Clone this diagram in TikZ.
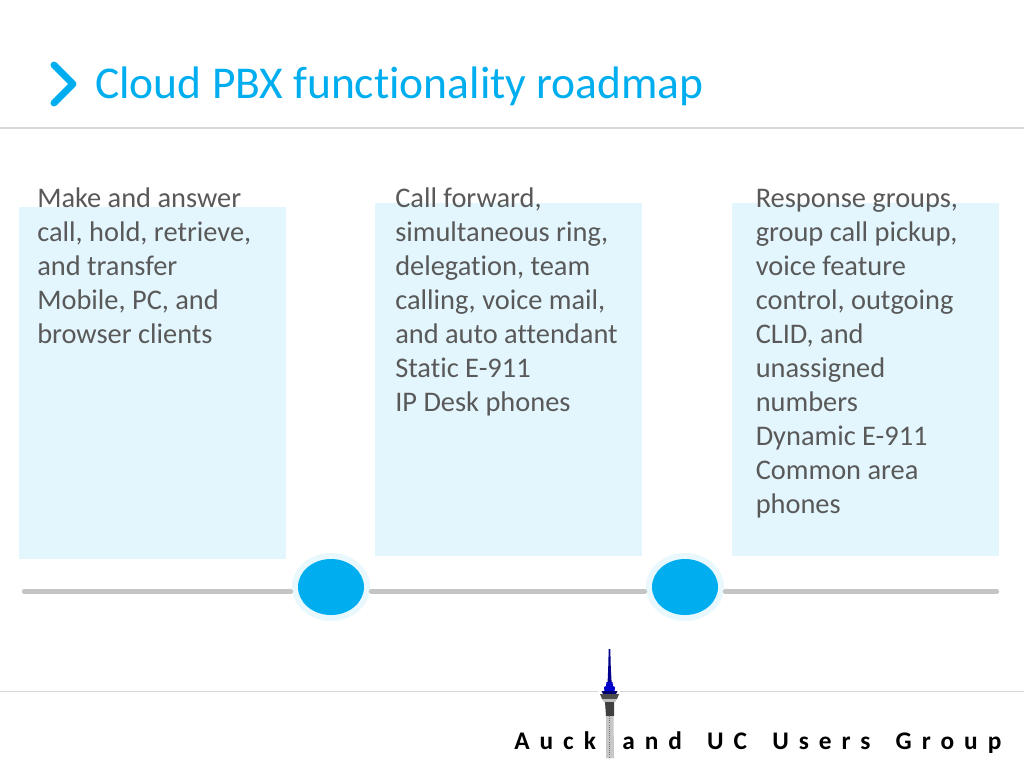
\documentclass[tikz,border=0pt]{standalone}
\usepackage{fontspec}
\setmainfont[Ligatures=NoCommon]{Carlito}
\newfontfamily\spacedfont[LetterSpace=39.5,WordSpace=1.6,Ligatures=NoCommon]{Carlito Bold}
\definecolor{accent}{RGB}{0,174,239}
\definecolor{panel}{RGB}{227,246,253}
\definecolor{halo}{RGB}{232,248,253}
\definecolor{bodytext}{RGB}{89,89,89}
\definecolor{rulegrey}{RGB}{215,215,215}
\definecolor{track}{RGB}{196,196,196}
\tikzset{
  panelbox/.style={fill=panel,draw=none},
  bodylabel/.style={anchor=north west,align=left,inner sep=0pt,text=bodytext,font=\fontsize{21.3pt}{25.5pt}\selectfont},
  tracksegment/.style={draw=track,line width=3.2pt,line cap=round},
  thinrule/.style={draw=rulegrey,line width=0.9pt},
}
\begin{document}
\begin{tikzpicture}[x=0.75pt,y=-0.75pt]
\useasboundingbox (0,0) rectangle (1024,768);
\fill[white] (0,0) rectangle (1024,768);
% rules
\coordinate (ruleAl) at (0,128); \coordinate (ruleAr) at (1024,128);
\draw[thinrule] (ruleAl) -- (ruleAr);
\coordinate (ruleBl) at (0,691.5); \coordinate (ruleBr) at (1024,691.5);
\draw[thinrule] (ruleBl) -- (ruleBr);
% title
\draw[accent,line width=5.2pt,line cap=round,line join=round] (54,65) -- (73,84) -- (54,103);
\node[anchor=base west,inner sep=0pt,text=accent,font=\fontsize{34.15pt}{40pt}\selectfont] (title) at (95,98) {Cloud PBX functionality roadmap};
% panels
\fill[panelbox] (19,207) rectangle (286,559);
\fill[panelbox] (375,202.5) rectangle (642,556);
\fill[panelbox] (732,202.5) rectangle (998.5,556);
% texts
\node[bodylabel] (tA) at (37,187.5) {Make and answer\\call, hold, retrieve,\\and transfer\\Mobile, PC, and\\browser clients};
\node[bodylabel] (tB) at (395,187.5) {Call forward,\\simultaneous ring,\\delegation, team\\calling, voice mail,\\and auto attendant\\Static E-911\\IP Desk phones};
\node[bodylabel] (tC) at (755.5,189.5) {Response groups,\\group call pickup,\\voice feature\\control, outgoing\\CLID, and\\unassigned\\numbers\\Dynamic E-911\\Common area\\phones};
% timeline
\coordinate (trackStart) at (24,591.5);
\coordinate (trackEnd) at (997,591.5);
\fill[halo] (331,587) ellipse (39 and 34);
\fill[halo] (685,587) ellipse (39 and 34);
\draw[tracksegment] (trackStart) -- (291,591.5);
\draw[tracksegment] (371,591.5) -- (645,591.5);
\draw[tracksegment] (725,591.5) -- (trackEnd);
\fill[accent] (331,587) ellipse (33 and 28);
\fill[accent] (685,587) ellipse (33 and 28);
% tower
\fill[white] (598,686) rectangle (620,697);
\fill[blue!55!black] (608.7,649) -- (610.3,649) -- (610.8,668) -- (611.6,682) -- (607.6,682) -- (608.2,668) -- cycle;
\fill[blue!80!black] (606.5,682) -- (612.5,682) -- (613,686) -- (615,687) -- (614.5,692) -- (604.5,692) -- (604,687) -- (606,686) -- cycle;
\fill[blue!45!black] (601.5,691) -- (617.5,691) -- (616,694) -- (603,694) -- cycle;
\fill[black!70] (600,694) -- (619,694) -- (617,699) -- (602,699) -- cycle;
\fill[black!25] (602,699) -- (617,699) -- (615,702) -- (604,702) -- cycle;
\fill[black!75] (605,702) -- (614,702) -- (614,716) -- (606,716) -- cycle;
\fill[black!22] (606,716) -- (613.5,716) -- (614,758) -- (606,758) -- cycle;
\draw[black!55,line width=0.6pt,densely dotted] (609.5,716) -- (609.5,758);
% footer
\node[anchor=base west,inner sep=0pt,font=\fontsize{19pt}{22pt}\spacedfont] (footA) at (514,749) {Auck};
\node[anchor=base west,inner sep=0pt,font=\fontsize{19pt}{22pt}\spacedfont] (footB) at (622,749) {and UC Users Group};
\end{tikzpicture}
\end{document}
